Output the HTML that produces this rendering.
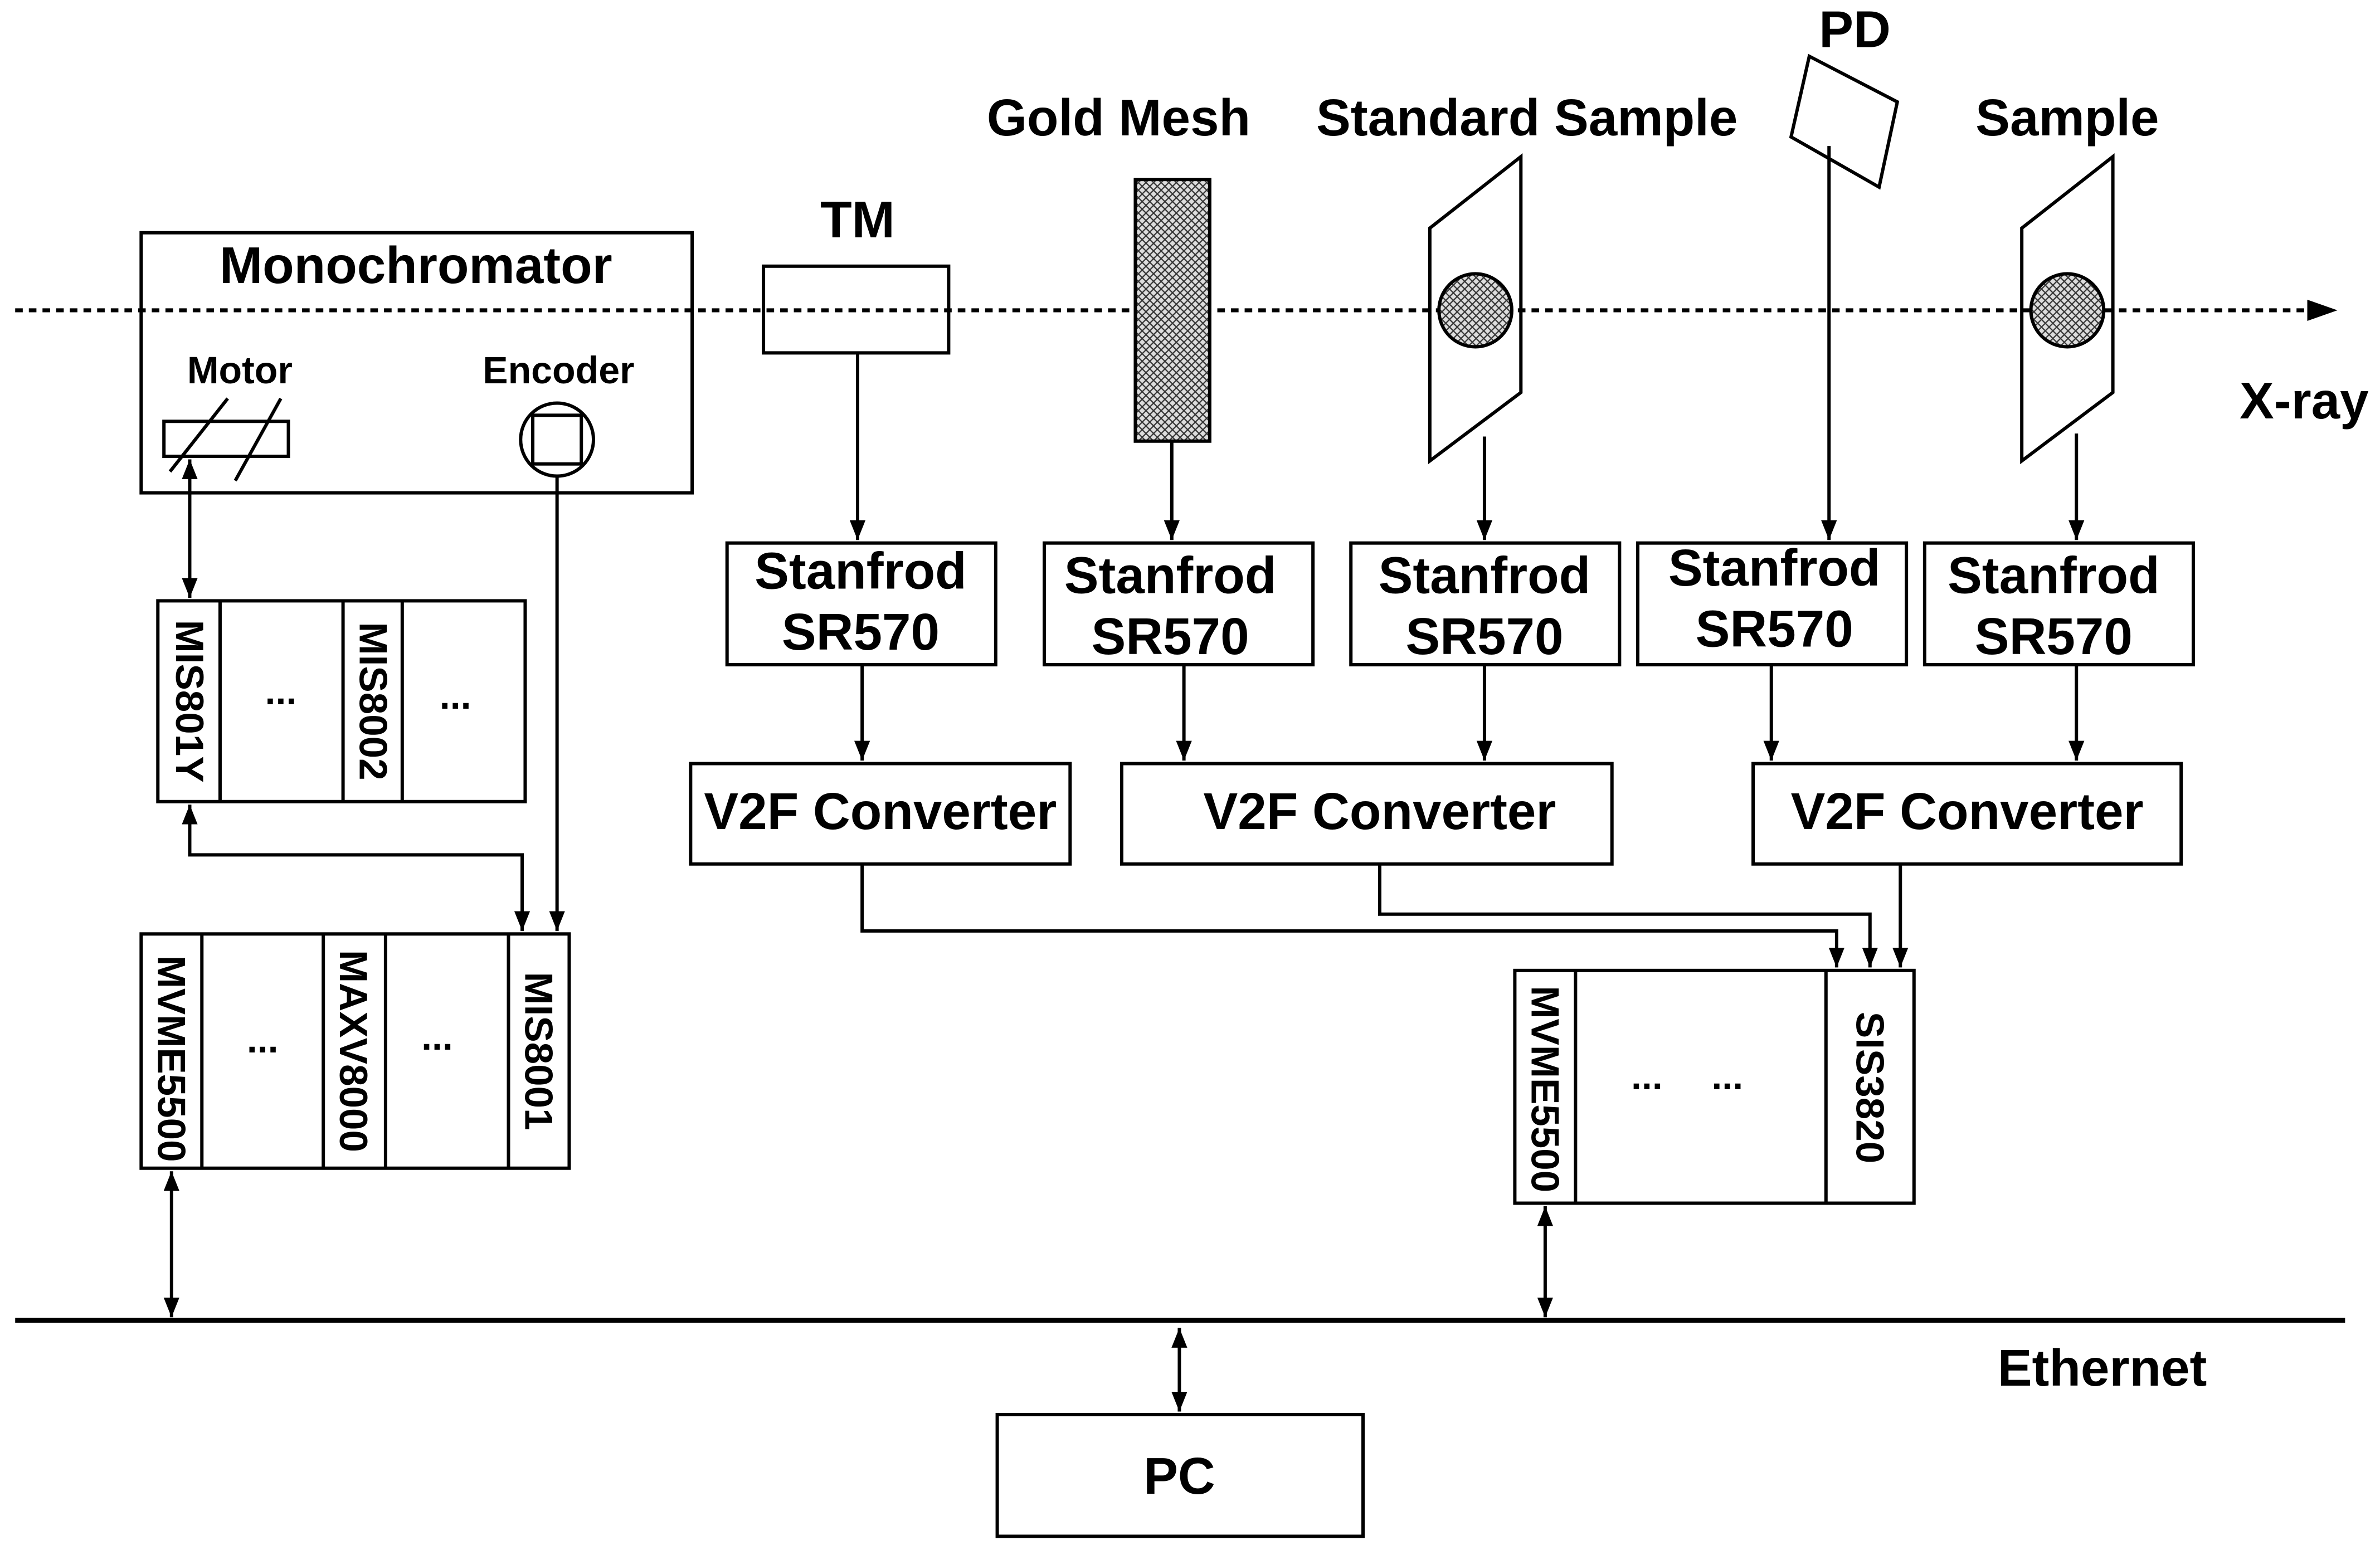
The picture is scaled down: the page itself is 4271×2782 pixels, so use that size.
<!DOCTYPE html>
<html><head><meta charset="utf-8"><style>
html,body{margin:0;padding:0;background:#fff}
svg{display:block}
text{font-family:"Liberation Sans",Arial,sans-serif;font-weight:bold;fill:#000}
</style></head><body>
<svg width="4271" height="2782" viewBox="0 0 1568 1019" preserveAspectRatio="none" xmlns="http://www.w3.org/2000/svg">
<defs>
<marker id="a" viewBox="0 0 10 10" refX="10" refY="5" markerWidth="13" markerHeight="13" markerUnits="userSpaceOnUse" orient="auto-start-reverse"><path d="M0,1 L10,5 L0,9 z" fill="#000"/></marker>
<marker id="b" viewBox="0 0 10 10" refX="10" refY="5" markerWidth="20" markerHeight="20" markerUnits="userSpaceOnUse" orient="auto"><path d="M0,1.5 L10,5 L0,8.5 z" fill="#000"/></marker>
<pattern id="h" width="5" height="5" patternUnits="userSpaceOnUse"><rect width="5" height="5" fill="#ddd"/><path d="M0,0L5,5M5,0L0,5" stroke="#333" stroke-width="0.8"/></pattern>
</defs>
<g stroke="#000" stroke-width="2.2" fill="none">
<line x1="10" y1="204" x2="1540" y2="204" stroke-dasharray="5,4" stroke-width="2.6" marker-end="url(#b)"/>
<rect x="93" y="153" width="363" height="171"/>
<rect x="108" y="277" width="82" height="23"/>
<line x1="112" y1="310" x2="150" y2="262"/><line x1="155" y1="316" x2="185" y2="262"/>
<circle cx="367" cy="289" r="24"/><rect x="351" y="273" width="32" height="32"/>
<line x1="125" y1="302" x2="125" y2="393" marker-start="url(#a)" marker-end="url(#a)"/>
<rect x="104" y="395" width="242" height="132"/>
<line x1="145" y1="395" x2="145" y2="527"/><line x1="226" y1="395" x2="226" y2="527"/><line x1="265" y1="395" x2="265" y2="527"/>
<polyline points="125,529 125,562 344,562 344,612" marker-start="url(#a)" marker-end="url(#a)"/>
<line x1="367" y1="313" x2="367" y2="612" marker-end="url(#a)"/>
<rect x="93" y="614" width="282" height="154"/>
<line x1="133" y1="614" x2="133" y2="768"/><line x1="213" y1="614" x2="213" y2="768"/><line x1="254" y1="614" x2="254" y2="768"/><line x1="335" y1="614" x2="335" y2="768"/>
<line x1="113" y1="770" x2="113" y2="866" marker-start="url(#a)" marker-end="url(#a)"/>
<line x1="10" y1="868" x2="1545" y2="868" stroke-width="3.2"/>
<rect x="657" y="930" width="241" height="80"/>
<line x1="777" y1="873" x2="777" y2="928" marker-start="url(#a)" marker-end="url(#a)"/>
<rect x="503" y="175" width="122" height="57"/>
<line x1="565" y1="232" x2="565" y2="355" marker-end="url(#a)"/>
<rect x="748" y="118" width="49" height="172" fill="url(#h)"/>
<line x1="772" y1="290" x2="772" y2="355" marker-end="url(#a)"/>
<polygon points="942,150 1002,103 1002,258 942,303"/>
<circle cx="972" cy="204" r="24" fill="url(#h)"/>
<line x1="978" y1="287" x2="978" y2="355" marker-end="url(#a)"/>
<polygon points="1192,37 1250,67 1238,123 1180,90"/>
<line x1="1205" y1="96" x2="1205" y2="355" marker-end="url(#a)"/>
<polygon points="1332,150 1392,103 1392,258 1332,303"/>
<circle cx="1362" cy="204" r="24" fill="url(#h)"/>
<line x1="1368" y1="285" x2="1368" y2="355" marker-end="url(#a)"/>
<rect x="479" y="357" width="177" height="80"/>
<rect x="688" y="357" width="177" height="80"/>
<rect x="890" y="357" width="177" height="80"/>
<rect x="1079" y="357" width="177" height="80"/>
<rect x="1268" y="357" width="177" height="80"/>
<line x1="568" y1="437" x2="568" y2="500" marker-end="url(#a)"/>
<line x1="780" y1="437" x2="780" y2="500" marker-end="url(#a)"/>
<line x1="978" y1="437" x2="978" y2="500" marker-end="url(#a)"/>
<line x1="1167" y1="437" x2="1167" y2="500" marker-end="url(#a)"/>
<line x1="1368" y1="437" x2="1368" y2="500" marker-end="url(#a)"/>
<rect x="455" y="502" width="250" height="66"/>
<rect x="739" y="502" width="323" height="66"/>
<rect x="1155" y="502" width="282" height="66"/>
<polyline points="568,568 568,612 1210,612 1210,636" marker-end="url(#a)"/>
<polyline points="909,568 909,601 1232,601 1232,636" marker-end="url(#a)"/>
<line x1="1252" y1="568" x2="1252" y2="636" marker-end="url(#a)"/>
<rect x="998" y="638" width="263" height="153"/>
<line x1="1038" y1="638" x2="1038" y2="791"/><line x1="1203" y1="638" x2="1203" y2="791"/>
<line x1="1018" y1="793" x2="1018" y2="866" marker-start="url(#a)" marker-end="url(#a)"/>
</g>
<g font-size="34" text-anchor="middle">
<text x="274" y="186">Monochromator</text>
<text x="565" y="156">TM</text>
<text x="737" y="89">Gold Mesh</text>
<text x="1006" y="89">Standard Sample</text>
<text x="1222" y="31">PD</text>
<text x="1362" y="89">Sample</text>
<text x="1518" y="275">X-ray</text>
<text x="1385" y="911">Ethernet</text>
<text x="777" y="982">PC</text>
<text x="567" y="387">Stanfrod</text><text x="567" y="427">SR570</text>
<text x="771" y="390">Stanfrod</text><text x="771" y="430">SR570</text>
<text x="978" y="390">Stanfrod</text><text x="978" y="430">SR570</text>
<text x="1169" y="385">Stanfrod</text><text x="1169" y="425">SR570</text>
<text x="1353" y="390">Stanfrod</text><text x="1353" y="430">SR570</text>
<text x="580" y="545">V2F Converter</text>
<text x="909" y="545">V2F Converter</text>
<text x="1296" y="545">V2F Converter</text>
</g>
<g font-size="25" text-anchor="middle">
<text x="158" y="252">Motor</text>
<text x="368" y="252">Encoder</text>
<text x="185" y="463">...</text><text x="300" y="466">...</text>
<text x="173" y="692">...</text><text x="288" y="690">...</text>
<text x="1085" y="716">...</text><text x="1138" y="716">...</text>
</g>
<g font-size="26" text-anchor="middle">
<text transform="translate(116,461) rotate(90)">MIS801Y</text>
<text transform="translate(237,461) rotate(90)">MIS8002</text>
<text transform="translate(104,696) rotate(90)">MVME5500</text>
<text transform="translate(224,691) rotate(90)">MAXV8000</text>
<text transform="translate(346,691) rotate(90)">MIS8001</text>
<text transform="translate(1009,716) rotate(90)">MVME5500</text>
<text transform="translate(1223,715) rotate(90)">SIS3820</text>
</g>
</svg>
</body></html>
